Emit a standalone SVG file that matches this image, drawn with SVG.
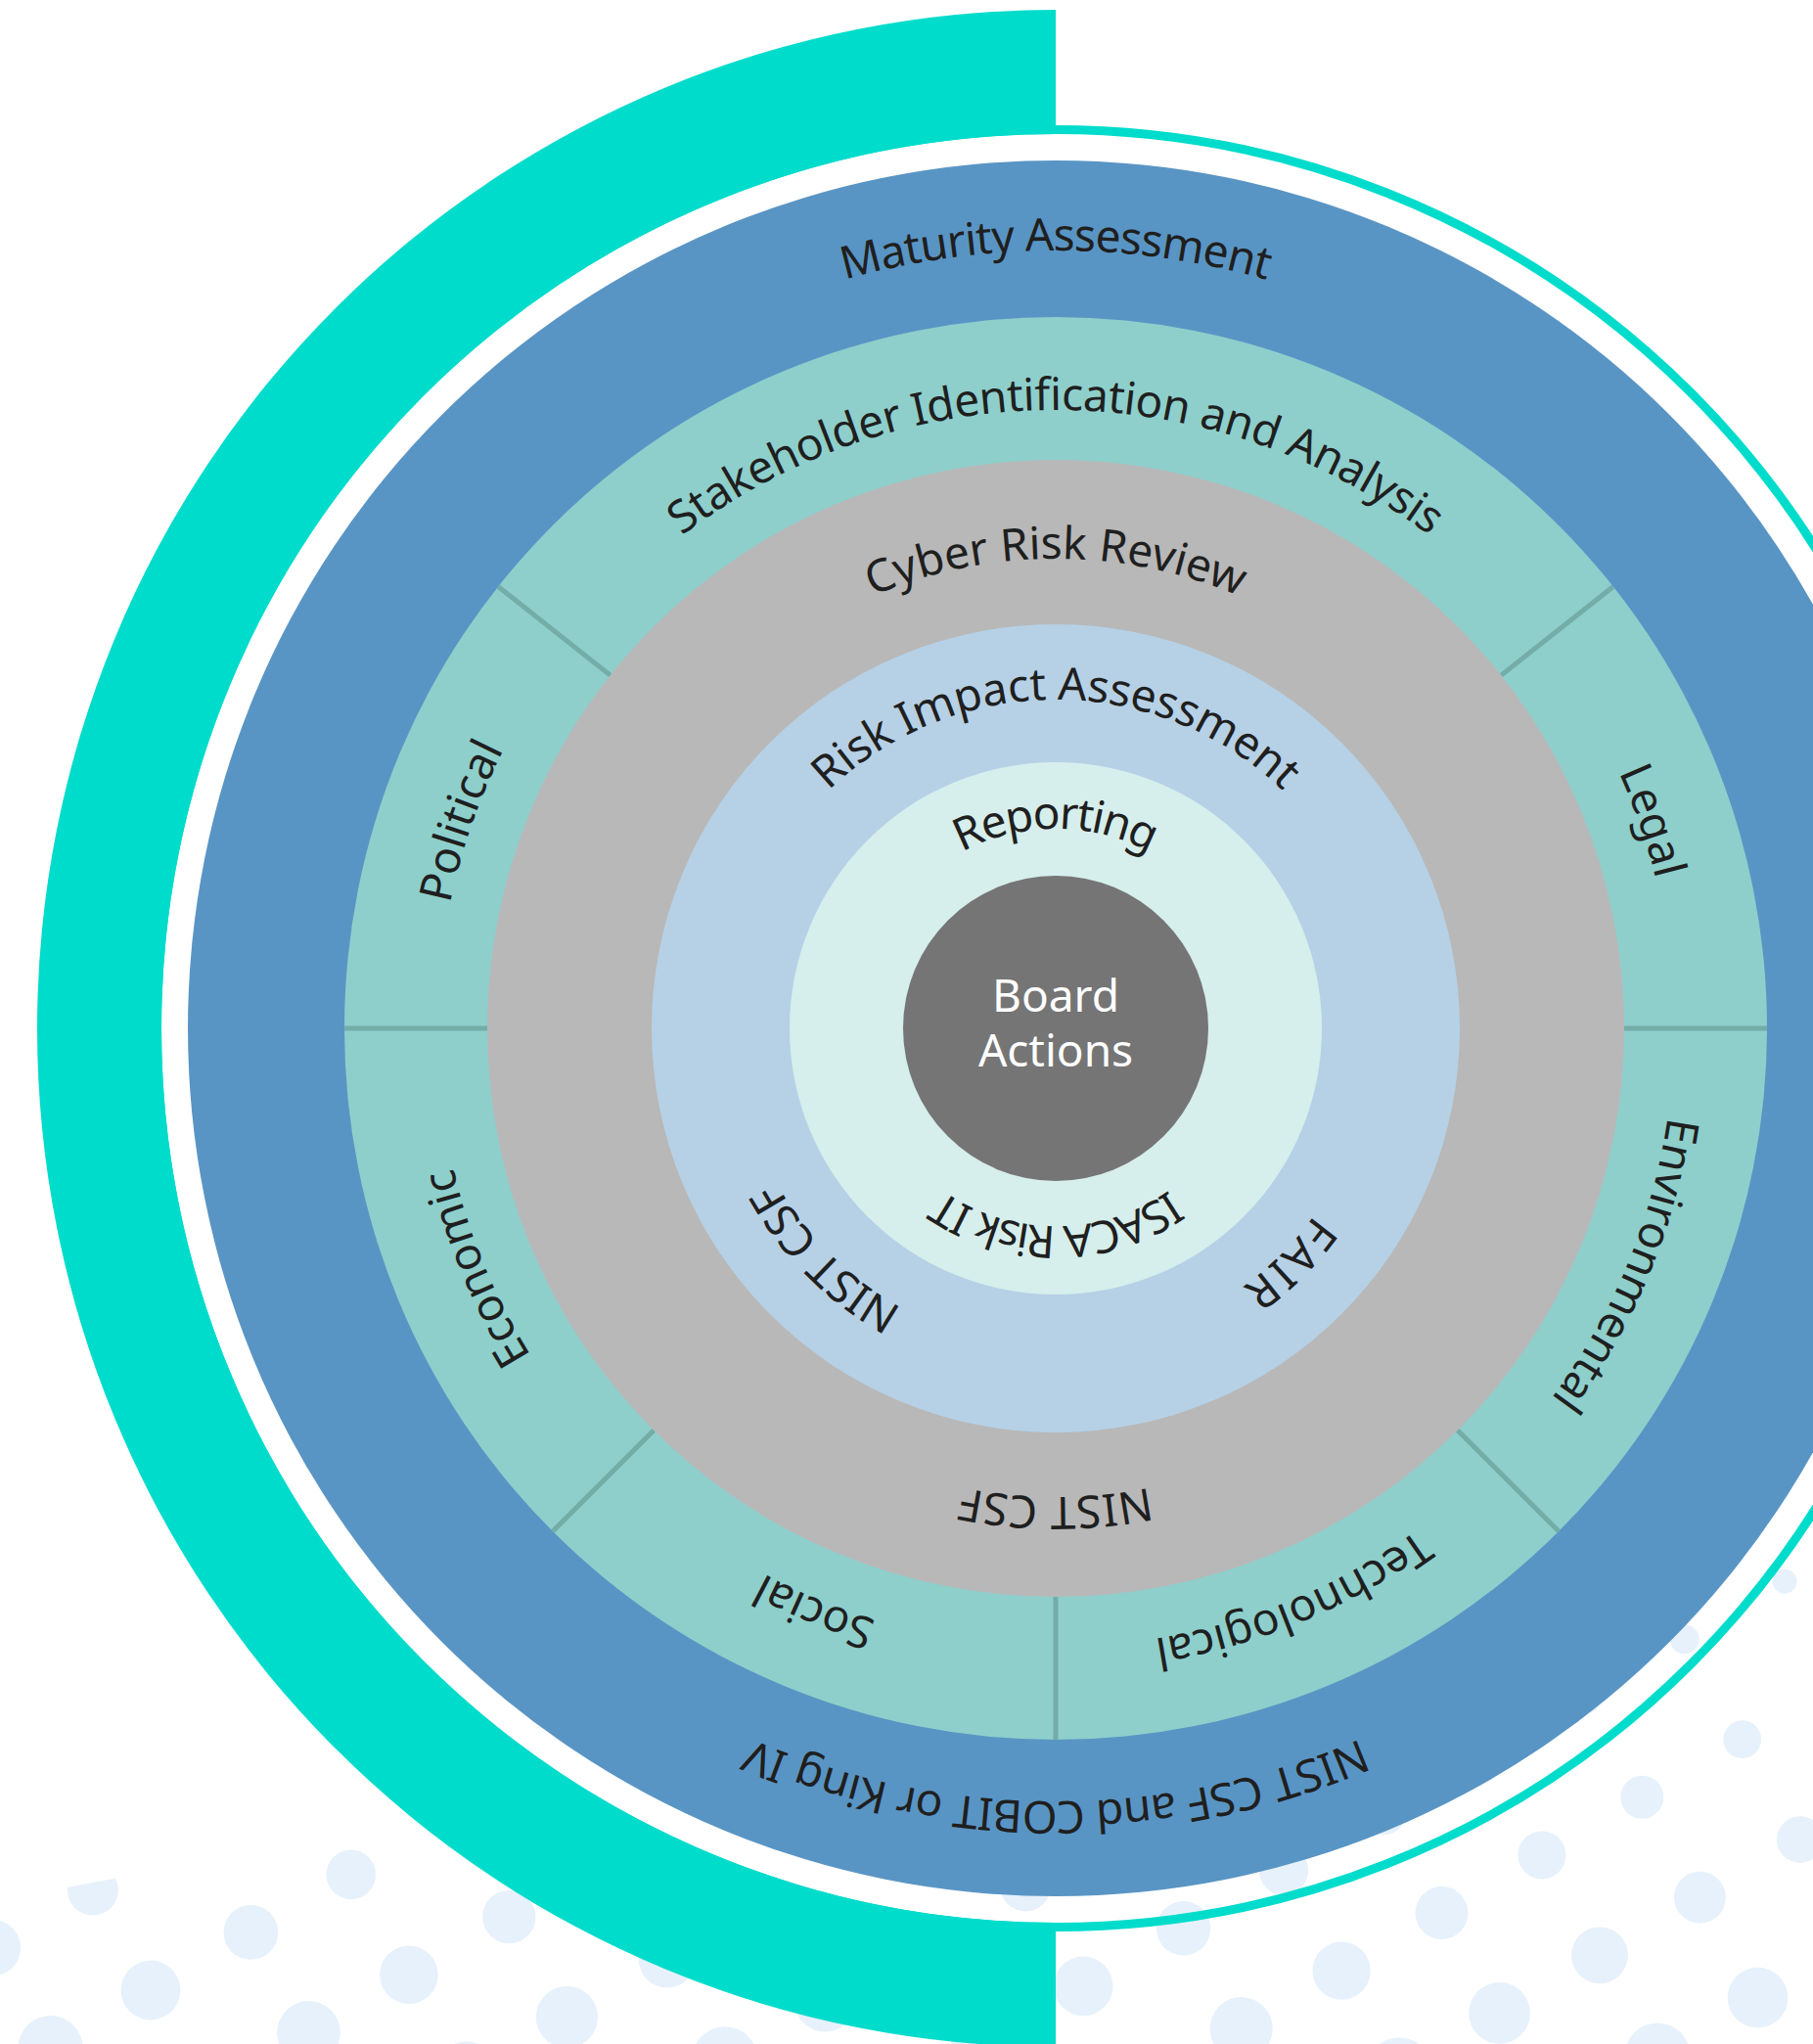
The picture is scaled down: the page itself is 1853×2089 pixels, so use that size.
<svg xmlns="http://www.w3.org/2000/svg" width="1853" height="2089" viewBox="0 0 1853 2089">
<defs>
<style>
.lbl{font-family:"Noto Sans","Open Sans","DejaVu Sans",sans-serif;font-size:46px;fill:#1f1f1f;text-anchor:middle;}
.ctr{font-family:"Noto Sans","Open Sans","DejaVu Sans",sans-serif;font-size:46px;fill:#ffffff;text-anchor:middle;}
.div{stroke:#74aca8;stroke-width:5;fill:none;}
.dot{fill:#e6f1fb;}
.teal{fill:#00dccb;}
</style>
<clipPath id="dotclip"><polygon points="-50,1951.55 1900,1581.05 1900,2200 -50,2200"/></clipPath>
<path id="p-mat" d="M 284 1051 A 795 795 0 0 1 1079 256 A 795 795 0 0 1 1874 1051"/>
<path id="p-stk" d="M 447 1051 A 632 632 0 0 1 1079 419 A 632 632 0 0 1 1711 1051"/>
<path id="p-cyb" d="M 599 1051 A 480 480 0 0 1 1079 571 A 480 480 0 0 1 1559 1051"/>
<path id="p-ria" d="M 743 1051 A 336 336 0 0 1 1079 715 A 336 336 0 0 1 1415 1051"/>
<path id="p-rep" d="M 875 1051 A 204 204 0 0 1 1079 847 A 204 204 0 0 1 1283 1051"/>
<path id="p-isa" d="M 1281 1051 A 202 202 0 0 1 1079 1253 A 202 202 0 0 1 877 1051"/>
<path id="p-nci" d="M 1309.5 1281.5 A 326 326 0 0 1 848.5 1281.5 A 326 326 0 0 1 848.5 820.5"/>
<path id="p-fair" d="M 1309.5 820.5 A 326 326 0 0 1 1309.5 1281.5 A 326 326 0 0 1 848.5 1281.5"/>
<path id="p-ncg" d="M 1558 1051 A 479 479 0 0 1 1079 1530 A 479 479 0 0 1 600 1051"/>
<path id="p-nck" d="M 1869 1051 A 790 790 0 0 1 1079 1841 A 790 790 0 0 1 289 1051"/>
<path id="p-legal" d="M 871.1 454.1 A 632 632 0 0 1 1675.9 843.1 A 632 632 0 0 1 1286.9 1647.9"/>
<path id="p-pol" d="M 871.1 1647.9 A 632 632 0 0 1 482.1 843.1 A 632 632 0 0 1 1286.9 454.1"/>
<path id="p-env" d="M 1320.9 467.1 A 632 632 0 0 1 1662.9 1292.9 A 632 632 0 0 1 837.1 1634.9"/>
<path id="p-tech" d="M 1662.9 809.1 A 632 632 0 0 1 1320.9 1634.9 A 632 632 0 0 1 495.1 1292.9"/>
<path id="p-soc" d="M 1662.9 1292.9 A 632 632 0 0 1 837.1 1634.9 A 632 632 0 0 1 495.1 809.1"/>
<path id="p-eco" d="M 1320.9 1634.9 A 632 632 0 0 1 495.1 1292.9 A 632 632 0 0 1 837.1 467.1"/>
</defs>
<rect width="1853" height="2089" fill="#ffffff"/>
<g id="dots" clip-path="url(#dotclip)" class="dot">
<circle cx="-7.5" cy="1990.7" r="28.6"/><circle cx="94.9" cy="1931.6" r="26"/>
<circle cx="51.6" cy="2093.1" r="33"/><circle cx="154" cy="2034" r="30.4"/><circle cx="256.4" cy="1974.9" r="27.9"/><circle cx="358.8" cy="1915.8" r="25.3"/><circle cx="461.2" cy="1856.7" r="22.8"/>
<circle cx="315.5" cy="2077.3" r="32.3"/><circle cx="417.9" cy="2018.2" r="29.8"/><circle cx="520.3" cy="1959.1" r="27.2"/><circle cx="622.7" cy="1900" r="24.7"/><circle cx="725.1" cy="1840.9" r="22.1"/><circle cx="827.5" cy="1781.8" r="19.6"/>
<circle cx="477" cy="2120.6" r="34.2"/><circle cx="579.4" cy="2061.5" r="31.6"/><circle cx="681.8" cy="2002.4" r="29.1"/><circle cx="784.2" cy="1943.3" r="26.5"/><circle cx="886.6" cy="1884.2" r="24"/><circle cx="989" cy="1825.1" r="21.4"/><circle cx="1091.4" cy="1766" r="18.9"/><circle cx="1193.8" cy="1706.9" r="16.4"/>
<circle cx="740.9" cy="2104.8" r="33.5"/><circle cx="843.3" cy="2045.7" r="30.9"/><circle cx="945.7" cy="1986.6" r="28.4"/><circle cx="1048.1" cy="1927.5" r="25.9"/><circle cx="1150.5" cy="1868.4" r="23.3"/><circle cx="1252.9" cy="1809.3" r="20.8"/><circle cx="1355.3" cy="1750.2" r="18.2"/><circle cx="1457.7" cy="1691.1" r="15.7"/>
<circle cx="1004.8" cy="2089" r="32.8"/><circle cx="1107.2" cy="2029.9" r="30.3"/><circle cx="1209.6" cy="1970.8" r="27.7"/><circle cx="1312" cy="1911.7" r="25.2"/><circle cx="1414.4" cy="1852.6" r="22.6"/><circle cx="1516.8" cy="1793.5" r="20.1"/><circle cx="1619.2" cy="1734.4" r="17.5"/><circle cx="1721.6" cy="1675.3" r="15"/><circle cx="1824" cy="1616.2" r="12.5"/>
<circle cx="1268.7" cy="2073.2" r="32.1"/><circle cx="1371.1" cy="2014.1" r="29.6"/><circle cx="1473.5" cy="1955" r="27"/><circle cx="1575.9" cy="1895.9" r="24.5"/><circle cx="1678.3" cy="1836.8" r="22"/><circle cx="1780.7" cy="1777.7" r="19.4"/>
<circle cx="1430.2" cy="2116.5" r="34"/><circle cx="1532.6" cy="2057.4" r="31.4"/><circle cx="1635" cy="1998.3" r="28.9"/><circle cx="1737.4" cy="1939.2" r="26.4"/><circle cx="1839.8" cy="1880.1" r="23.8"/>
<circle cx="1694.1" cy="2100.7" r="33.3"/><circle cx="1796.5" cy="2041.6" r="30.8"/>
</g>
<g id="outer-arc">
<circle cx="1079" cy="1051" r="918.5" fill="none" stroke="#00dccb" stroke-width="9"/>
<path class="teal" d="M 1079 10 A 1041 1041 0 0 0 1079 2092 L 1079 1965 A 914 914 0 0 1 1079 137 Z"/>
</g>
<g id="maturity-ring">
<circle cx="1079" cy="1051" r="887" fill="#5995c4"/>
<text class="lbl"><textPath href="#p-mat" startOffset="50%" textLength="437" lengthAdjust="spacing">Maturity Assessment</textPath></text>
<text class="lbl"><textPath href="#p-nck" startOffset="50%" textLength="640" lengthAdjust="spacing">NIST CSF and COBIT or King IV</textPath></text>
</g>
<g id="stakeholder-ring">
<circle cx="1079" cy="1051" r="727" fill="#8ecfcc"/>
</g>
<g id="connectors">
<line class="div" x1="1534.3" y1="690.1" x2="1648.8" y2="599.5"/>
<line class="div" x1="623.7" y1="690.1" x2="509.2" y2="599.5"/>
<line class="div" x1="1660" y1="1051" x2="1806" y2="1051"/>
<line class="div" x1="498" y1="1051" x2="352" y2="1051"/>
<line class="div" x1="1489.8" y1="1461.8" x2="1593.1" y2="1565.1"/>
<line class="div" x1="668.2" y1="1461.8" x2="564.9" y2="1565.1"/>
<line class="div" x1="1079" y1="1632" x2="1079" y2="1778"/>
</g>
<g id="stakeholder-labels">
<text class="lbl"><textPath href="#p-stk" startOffset="50%" textLength="821" lengthAdjust="spacing">Stakeholder Identification and Analysis</textPath></text>
<text class="lbl"><textPath href="#p-legal" startOffset="50%">Legal</textPath></text>
<text class="lbl"><textPath href="#p-env" startOffset="50%">Environmental</textPath></text>
<text class="lbl"><textPath href="#p-tech" startOffset="50%">Technological</textPath></text>
<text class="lbl"><textPath href="#p-soc" startOffset="50%">Social</textPath></text>
<text class="lbl"><textPath href="#p-eco" startOffset="50%">Economic</textPath></text>
<text class="lbl"><textPath href="#p-pol" startOffset="50%">Political</textPath></text>
</g>
<g id="cyber-ring">
<circle cx="1079" cy="1051" r="581" fill="#b8b8b8"/>
<text class="lbl"><textPath href="#p-cyb" startOffset="50%" textLength="385" lengthAdjust="spacing">Cyber Risk Review</textPath></text>
<text class="lbl"><textPath href="#p-ncg" startOffset="50%" textLength="193" lengthAdjust="spacing">NIST CSF</textPath></text>
</g>
<g id="impact-ring">
<circle cx="1079" cy="1051" r="413" fill="#b6d1e6"/>
<text class="lbl"><textPath href="#p-ria" startOffset="50%" textLength="513" lengthAdjust="spacing">Risk Impact Assessment</textPath></text>
<text class="lbl"><textPath href="#p-nci" startOffset="50%" textLength="185" lengthAdjust="spacing">NIST CSF</textPath></text>
<text class="lbl"><textPath href="#p-fair" startOffset="50%" textLength="105" lengthAdjust="spacing">FAIR</textPath></text>
</g>
<g id="reporting-ring">
<circle cx="1079" cy="1051" r="272" fill="#d6eeec"/>
<text class="lbl"><textPath href="#p-rep" startOffset="50%" textLength="200" lengthAdjust="spacing">Reporting</textPath></text>
<text class="lbl"><textPath href="#p-isa" startOffset="50%" textLength="247" lengthAdjust="spacing">ISACA Risk IT</textPath></text>
</g>
<g id="board-actions">
<circle cx="1079" cy="1051" r="156" fill="#757575"/>
<text class="ctr" x="1079" y="1034"><tspan x="1079" y="1034">Board</tspan><tspan x="1079" y="1090">Actions</tspan></text>
</g>
</svg>
